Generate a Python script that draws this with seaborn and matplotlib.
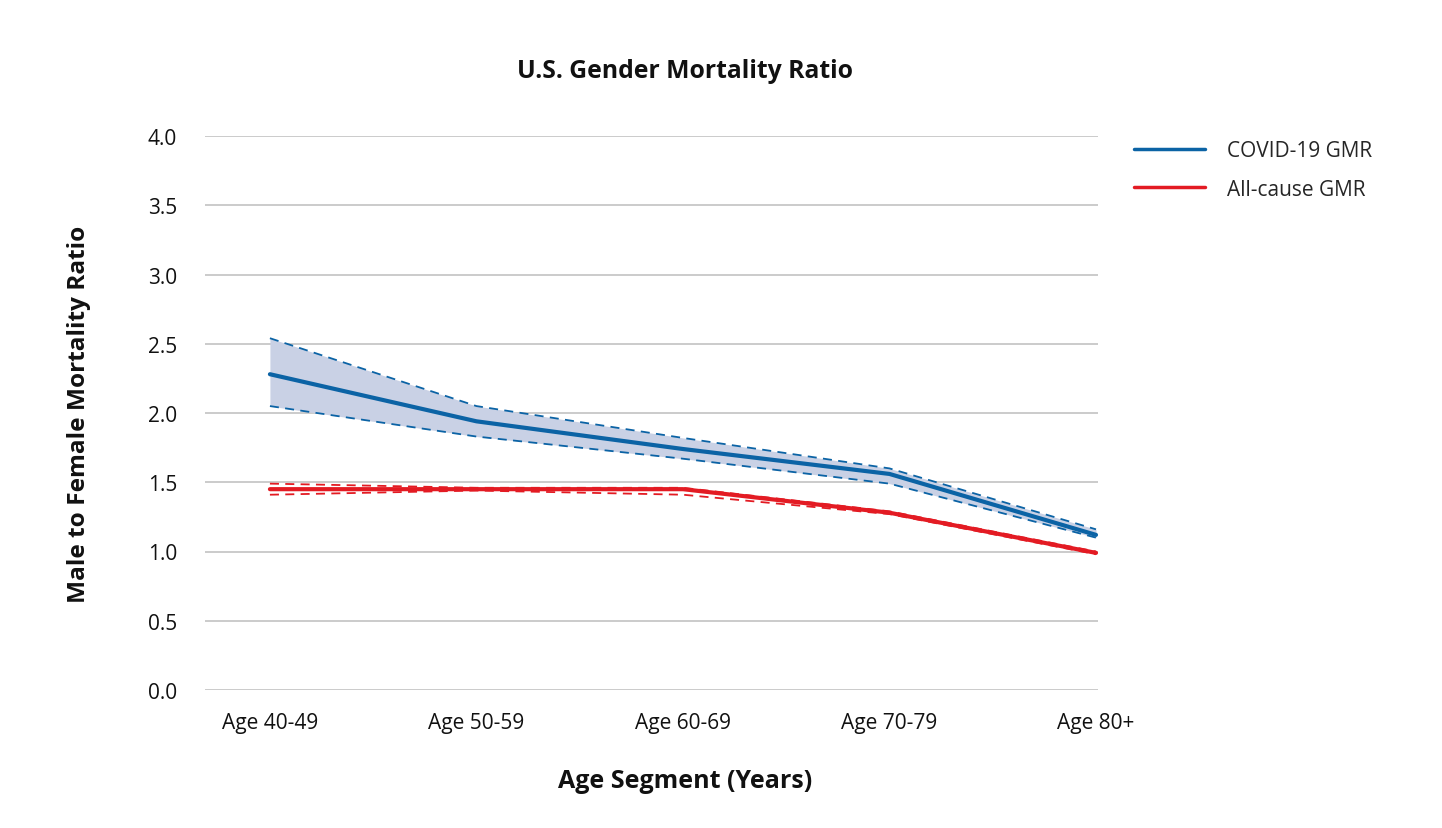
import matplotlib
matplotlib.use("Agg")
import matplotlib.pyplot as plt
import seaborn as sns
import pandas as pd
import numpy as np

age_groups = ["Age 40-49", "Age 50-59", "Age 60-69", "Age 70-79", "Age 80+"]
covid_gmr = [2.28, 1.94, 1.74, 1.56, 1.12]
covid_upper = [2.54, 2.05, 1.82, 1.60, 1.16]
covid_lower = [2.05, 1.83, 1.67, 1.49, 1.10]
allcause_gmr = [1.45, 1.45, 1.45, 1.28, 0.99]
allcause_upper = [1.49, 1.46, 1.46, 1.29, 1.00]
allcause_lower = [1.41, 1.44, 1.41, 1.27, 0.98]
y_ticks = [0.0, 0.5, 1.0, 1.5, 2.0, 2.5, 3.0, 3.5, 4.0]

BLUE = "#0B63A5"
RED = "#E31B23"
FILL = "#C9D1E5"

sns.set_theme(style="white")
plt.rcParams["font.family"] = ["Open Sans", "DejaVu Sans"]

x = np.arange(len(age_groups))
df = pd.DataFrame({
    "x": np.concatenate([x, x]),
    "value": covid_gmr + allcause_gmr,
    "series": ["COVID-19 GMR"] * len(x) + ["All-cause GMR"] * len(x),
})

fig = plt.figure(figsize=(14.42, 8.29), dpi=100)
ax = fig.add_axes([205 / 1442, 1 - 691 / 829, (1098 - 205) / 1442, (691 - 137) / 829])

ax.fill_between(x, covid_lower, covid_upper, color=FILL, linewidth=0, zorder=1)
for vals, col in [(covid_upper, BLUE), (covid_lower, BLUE), (allcause_upper, RED), (allcause_lower, RED)]:
    sns.lineplot(x=x, y=vals, ax=ax, color=col, linewidth=1.3, linestyle=(0, (5, 3.5)), legend=False, zorder=3)

sns.lineplot(data=df, x="x", y="value", hue="series", palette={"COVID-19 GMR": BLUE, "All-cause GMR": RED},
             ax=ax, linewidth=3, zorder=4)

ax.set_xlim(-65 / 206.75, 4 + 2 / 206.75)
ax.set_ylim(0, 4.0)
ax.set_yticks(y_ticks)
ax.set_yticklabels([f"{v:.1f}" for v in y_ticks], fontsize=15, color="#111111")
ax.set_xticks(x)
ax.set_xticklabels(age_groups, fontsize=15, color="#111111")
ax.tick_params(axis="y", length=0, pad=20)
ax.tick_params(axis="x", length=0, pad=16)
ax.yaxis.grid(True, color="#BDBDBD", linewidth=1.1)
ax.xaxis.grid(False)
for s in ax.spines.values():
    s.set_visible(False)

ax.set_xlabel("Age Segment (Years)", fontsize=18, fontweight="bold", color="#111111")
ax.xaxis.set_label_coords((685 - 205) / 893, -(782 - 691) / 554)
ax.xaxis.label.set_va("center")
ax.set_ylabel("Male to Female Mortality Ratio", fontsize=17.6, fontweight="bold", color="#111111")
ax.yaxis.set_label_coords(-(205 - 79) / 893, 0.5)
ax.yaxis.label.set_va("center")
fig.text(685 / 1442, 1 - 72 / 829, "U.S. Gender Mortality Ratio", fontsize=17.8, fontweight="bold",
         ha="center", va="center", color="#111111")

leg = ax.legend(loc="upper left", bbox_to_anchor=(1.019, 1.027), frameon=False, fontsize=15,
                handlelength=3.4, handletextpad=1.1, labelspacing=0.85)
for line in leg.get_lines():
    line.set_linewidth(2.5)

fig.savefig("out.png", dpi=100)
